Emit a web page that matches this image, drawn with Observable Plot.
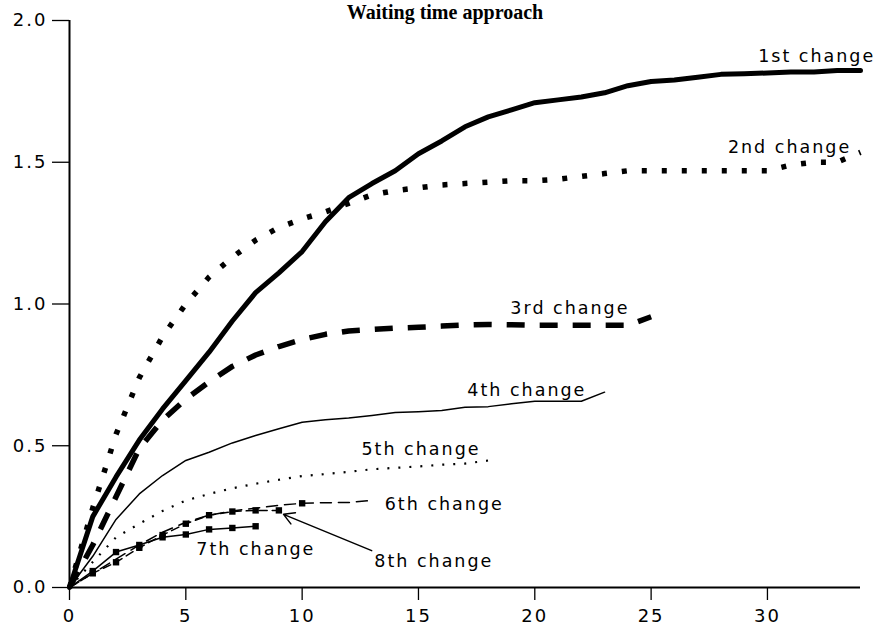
<!DOCTYPE html>
<html><head><meta charset="utf-8">
<script src="https://cdn.jsdelivr.net/npm/d3@7"></script>
<script src="https://cdn.jsdelivr.net/npm/@observablehq/plot@0.6"></script>
<style>
body{margin:0;background:#fff}
#chart svg text{letter-spacing:2px}
</style></head><body><div id="chart"></div>
<script>
// Values (x = 0,1,2,... time steps)
const change1 = [0,0.25,0.39,0.52,0.63,0.73,0.83,0.94,1.04,1.11,1.185,1.29,1.375,1.425,1.47,1.53,1.575,1.625,1.66,1.685,1.71,1.72,1.73,1.745,1.77,1.785,1.79,1.80,1.81,1.812,1.815,1.818,1.818,1.824,1.824];
const change2 = [0,0.28,0.54,0.74,0.885,1.0,1.095,1.165,1.225,1.27,1.30,1.325,1.355,1.385,1.40,1.41,1.42,1.425,1.43,1.435,1.435,1.44,1.45,1.46,1.47,1.47,1.47,1.47,1.47,1.47,1.47,1.49,1.50,1.50,1.535];
const change3 = [0,0.15,0.32,0.49,0.59,0.665,0.725,0.78,0.82,0.85,0.875,0.893,0.905,0.91,0.915,0.918,0.922,0.926,0.928,0.927,0.925,0.925,0.925,0.925,0.925,0.955];
const change4 = [0,0.11,0.24,0.33,0.395,0.448,0.477,0.51,0.536,0.56,0.583,0.592,0.598,0.607,0.617,0.62,0.624,0.636,0.638,0.648,0.657,0.657,0.657,0.689];
const change5 = [0,0.09,0.177,0.225,0.27,0.307,0.33,0.35,0.366,0.38,0.393,0.40,0.408,0.417,0.422,0.427,0.433,0.437,0.448];
const change6 = [0,0.05,0.10,0.15,0.195,0.23,0.255,0.27,0.28,0.29,0.297,0.299,0.30,0.307];
const change7 = [0,0.058,0.125,0.15,0.177,0.187,0.205,0.21,0.216];
const change8 = [0,0.05,0.089,0.14,0.185,0.225,0.255,0.268,0.272,0.272];

const seriesNames = ["1st change","2nd change","3rd change","4th change","5th change","6th change","7th change","8th change"];
const xTicks = [0,5,10,15,20,25,30];
const yTicks = [0,0.5,1.0,1.5,2.0];
const title = "Waiting time approach";

// annotation anchors (data coordinates)
const labelX = [29.6,28.3,18.95,17.1,12.55,13.55,5.45,13.1];
const labelY = [1.852,1.534,0.963,0.677,0.466,0.272,0.116,0.074];
const arrowFrom = {x:12.99, y:0.13};
const arrowTo = {x:9.2, y:0.258};

const pts = ys => ys.map((y,i)=>({x:i,y}));
const labels = seriesNames.map((name,i)=>({name, x:labelX[i], y:labelY[i]}));

const chart = Plot.plot({
  width: 881, height: 633,
  marginLeft: 69, marginRight: 21, marginTop: 20, marginBottom: 46,
  style: {fontFamily: "DejaVu Sans", fontSize: "18px", color: "black", background: "white"},
  x: {domain: [0,34], axis: null},
  y: {domain: [0,2], axis: null},
  marks: [
    Plot.axisX({ticks: xTicks, tickSize: 13, tickPadding: 9, fontSize: 18, tickFormat: d => String(d), strokeWidth: 1.3}),
    Plot.axisY({ticks: yTicks, tickSize: 17, tickPadding: 5, fontSize: 18, tickFormat: d => d.toFixed(1), strokeWidth: 1.3}),
    Plot.ruleY([0], {strokeWidth: 2}),
    Plot.ruleX([0], {strokeWidth: 2}),
    Plot.line(pts(change1), {x:"x", y:"y", strokeWidth: 5}),
    Plot.line(pts(change2), {x:"x", y:"y", strokeWidth: 5.5, strokeDasharray: "5,15", strokeLinecap: "butt"}),
    Plot.line(pts(change3), {x:"x", y:"y", strokeWidth: 5.5, strokeDasharray: "18,15", strokeLinecap: "butt"}),
    Plot.line(pts(change4), {x:"x", y:"y", strokeWidth: 1.5}),
    Plot.line(pts(change5), {x:"x", y:"y", strokeWidth: 2.2, strokeDasharray: "2,9", strokeLinecap: "butt"}),
    Plot.line(pts(change6), {x:"x", y:"y", strokeWidth: 1.5, strokeDasharray: "11,7"}),
    Plot.dot(pts(change6).filter(d => d.x === 10), {x:"x", y:"y", symbol: "square", r: 3.6, fill: "black"}),
    Plot.line(pts(change7), {x:"x", y:"y", strokeWidth: 1.5}),
    Plot.dot(pts(change7).slice(1), {x:"x", y:"y", symbol: "square", r: 3.6, fill: "black"}),
    Plot.line(pts(change8), {x:"x", y:"y", strokeWidth: 1.5, strokeDasharray: "8,5"}),
    Plot.dot(pts(change8).slice(1), {x:"x", y:"y", symbol: "square", r: 3.6, fill: "black"}),
    Plot.arrow([{x1: arrowFrom.x, y1: arrowFrom.y, x2: arrowTo.x, y2: arrowTo.y}], {x1:"x1", y1:"y1", x2:"x2", y2:"y2", strokeWidth: 1.5, headLength: 12, insetEnd: 0, insetStart: 0}),
    Plot.text(labels, {x:"x", y:"y", text:"name", textAnchor: "start", lineAnchor: "bottom", fontSize: 17.5}),
    Plot.text([title], {frameAnchor: "top", text: d => d, dy: -8, dx: -20, fontFamily: "Liberation Serif", fontSize: 20, fontWeight: "bold", lineAnchor: "middle"})
  ]
});
d3.select(chart).selectAll("text").filter(function(){ return this.textContent === title; }).style("letter-spacing", "0px");
document.getElementById("chart").append(chart);
</script></body></html>
